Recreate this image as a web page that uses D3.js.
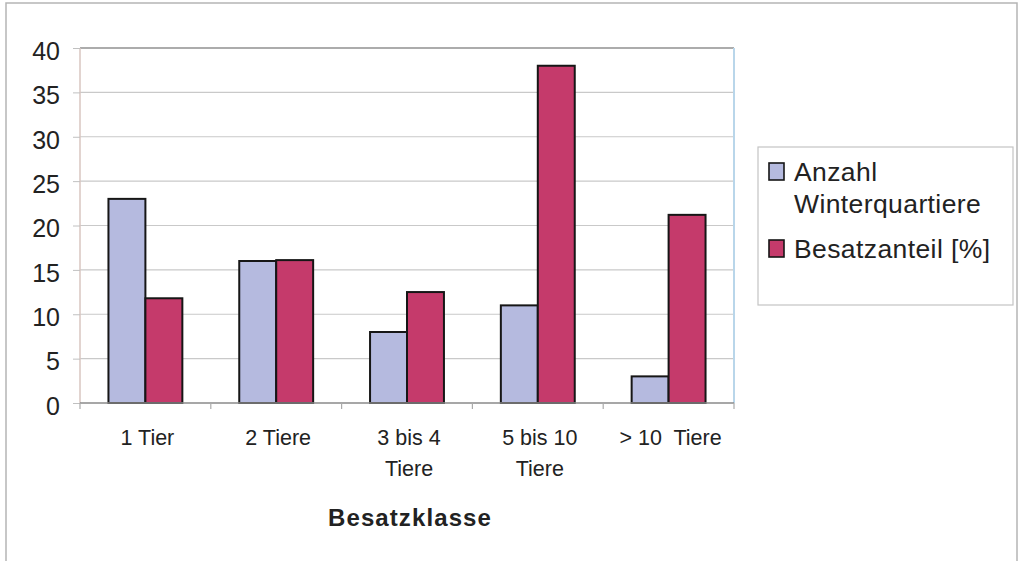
<!DOCTYPE html>
<html>
<head>
<meta charset="utf-8">
<script src="https://cdnjs.cloudflare.com/ajax/libs/d3/7.8.5/d3.min.js"></script>
<style>
  html, body { margin: 0; padding: 0; background: #fff; }
  svg { display: block; font-family: "Liberation Sans", Arial, sans-serif; }
</style>
</head>
<body>
<svg id="chart" width="1018" height="561"></svg>
<script>
// Besatzklassen (Kategorien), mehrzeilige Beschriftung
const categories = ["1 Tier", "2 Tiere", "3 bis 4 Tiere", "5 bis 10 Tiere", "> 10 Tiere"];
const categoryLabels = [["1 Tier"], ["2 Tiere"], ["3 bis 4", "Tiere"], ["5 bis 10", "Tiere"], ["> 10  Tiere"]];
const seriesNames = ["Anzahl Winterquartiere", "Besatzanteil [%]"];
const legendLines = [["Anzahl", "Winterquartiere"], ["Besatzanteil [%]"]];
const anzahlWinterquartiere = [23, 16, 8, 11, 3];
const besatzanteil = [11.8, 16.1, 12.5, 38.0, 21.2];
const yTicks = [0, 5, 10, 15, 20, 25, 30, 35, 40];
const colors = ["#b5badf", "#c53a6b"];

const svg = d3.select("#chart");

// Rahmen des Diagrammbereichs
svg.append("rect").attr("x", 6).attr("y", 3).attr("width", 1011).attr("height", 600)
  .attr("fill", "none").attr("stroke", "#b5b5b5").attr("stroke-width", 1.5);

const plot = { left: 80, right: 734, top: 48, bottom: 403 };

const y = d3.scaleLinear().domain([0, 40]).range([plot.bottom, plot.top]);
const x0 = d3.scaleBand().domain(categories).range([plot.left, plot.right]).padding(0);
const x1 = d3.scaleBand().domain(seriesNames).range([0, x0.bandwidth()])
  .paddingInner(0).paddingOuter(0.77);

const values = [anzahlWinterquartiere, besatzanteil];

// Gitternetzlinien
svg.append("g").selectAll("line").data(yTicks.filter(t => t > 0)).join("line")
  .attr("x1", plot.left).attr("x2", plot.right)
  .attr("y1", d => y(d)).attr("y2", d => y(d))
  .attr("stroke", "#c9c9c9").attr("stroke-width", 1.2);

// Zeichnungsfläche: Rand
svg.append("line").attr("x1", plot.left).attr("x2", plot.right)
  .attr("y1", plot.top).attr("y2", plot.top).attr("stroke", "#9a9a9a").attr("stroke-width", 1.5);
svg.append("line").attr("x1", plot.right).attr("x2", plot.right)
  .attr("y1", plot.top).attr("y2", plot.bottom).attr("stroke", "#b9d6ea").attr("stroke-width", 2);
svg.append("line").attr("x1", plot.left).attr("x2", plot.left)
  .attr("y1", plot.top).attr("y2", plot.bottom).attr("stroke", "#d9c6c0").attr("stroke-width", 1.5);

// Balken
const groups = svg.append("g").selectAll("g").data(categories).join("g")
  .attr("transform", d => `translate(${x0(d)},0)`);
groups.selectAll("rect")
  .data((c, i) => seriesNames.map((s, j) => ({ s, j, v: values[j][i] })))
  .join("rect")
  .attr("x", d => x1(d.s))
  .attr("y", d => y(d.v))
  .attr("width", x1.bandwidth())
  .attr("height", d => y(0) - y(d.v))
  .attr("fill", d => colors[d.j])
  .attr("stroke", "#161616").attr("stroke-width", 2);

// Y-Achse
const yAxis = d3.axisLeft(y).tickValues(yTicks).tickSize(7).tickPadding(13);
const gy = svg.append("g").attr("transform", `translate(${plot.left},0)`).call(yAxis);
gy.select(".domain").remove();
gy.selectAll(".tick line").attr("stroke", "#c0c0c0");
gy.selectAll(".tick text").attr("font-size", 25).attr("fill", "#222").attr("dy", "0.45em")
  .attr("font-family", "Liberation Sans, Arial, sans-serif");

// X-Achse
svg.append("line").attr("x1", plot.left).attr("x2", plot.right)
  .attr("y1", plot.bottom).attr("y2", plot.bottom).attr("stroke", "#8a8a8a").attr("stroke-width", 1.5);
const boundaries = categories.map(c => x0(c)).concat([plot.right]);
svg.append("g").selectAll("line").data(boundaries).join("line")
  .attr("x1", d => d).attr("x2", d => d)
  .attr("y1", plot.bottom).attr("y2", plot.bottom + 6)
  .attr("stroke", "#aaa").attr("stroke-width", 1.2);

const xl = svg.append("g").selectAll("text").data(categories).join("text")
  .attr("x", d => x0(d) + x0.bandwidth() / 2 + 2)
  .attr("y", 445)
  .attr("text-anchor", "middle")
  .attr("font-size", 21.5).attr("fill", "#222");
xl.selectAll("tspan").data((d, i) => categoryLabels[i]).join("tspan")
  .attr("x", function () { return d3.select(this.parentNode).attr("x"); })
  .attr("dy", (d, i) => i === 0 ? 0 : 31)
  .attr("xml:space", "preserve")
  .style("white-space", "pre")
  .text(d => d);

// Achsentitel
svg.append("text").attr("x", 410).attr("y", 526).attr("text-anchor", "middle")
  .attr("font-size", 24).attr("font-weight", "bold").attr("fill", "#222")
  .attr("letter-spacing", 1.1)
  .text("Besatzklasse");

// Legende
const lg = svg.append("g");
lg.append("rect").attr("x", 758).attr("y", 147).attr("width", 255).attr("height", 158)
  .attr("fill", "#fff").attr("stroke", "#c4c4c4").attr("stroke-width", 1.2);
const legendRows = [181, 258];
seriesNames.forEach((s, j) => {
  const yb = legendRows[j];
  lg.append("rect").attr("x", 769).attr("y", yb - 18).attr("width", 15).attr("height", 17)
    .attr("fill", colors[j]).attr("stroke", "#161616").attr("stroke-width", 1.6);
  const t = lg.append("text").attr("x", 794).attr("y", yb).attr("font-size", 26.5)
    .attr("letter-spacing", 0.4).attr("fill", "#222");
  legendLines[j].forEach((line, k) => {
    t.append("tspan").attr("x", 794).attr("dy", k === 0 ? 0 : 32).text(line);
  });
});
</script>
</body>
</html>
